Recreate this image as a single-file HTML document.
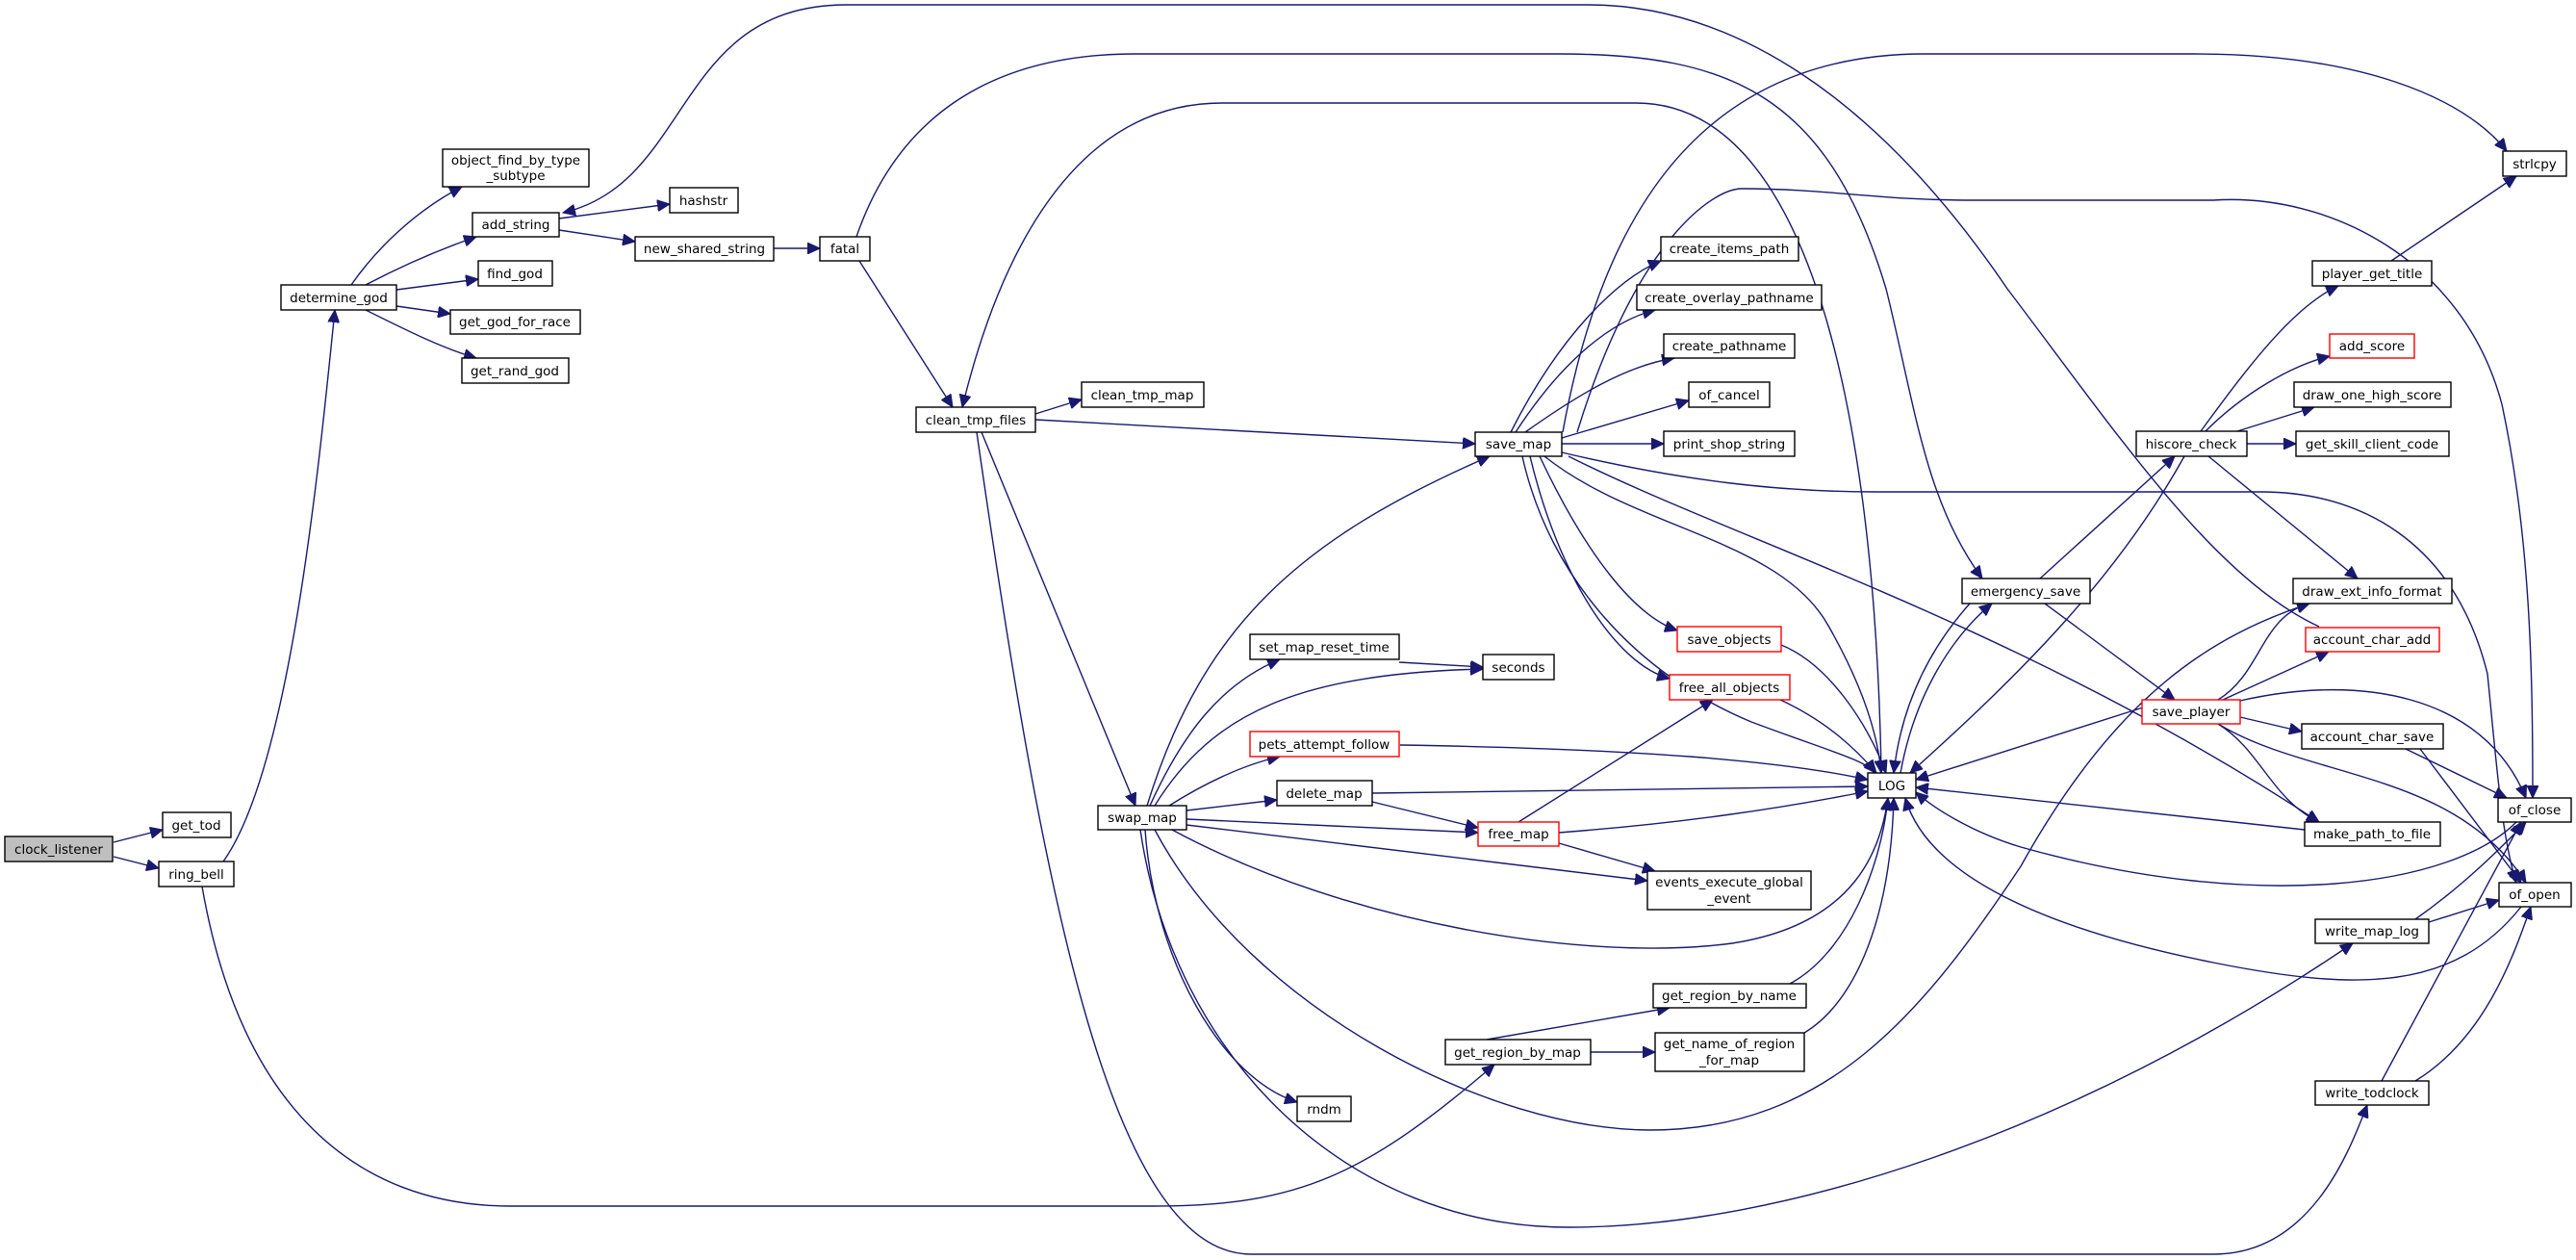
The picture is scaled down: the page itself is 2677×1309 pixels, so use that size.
<!DOCTYPE html>
<html><head><meta charset="utf-8"><style>
html,body{margin:0;padding:0;background:#fff;}
svg{display:block}
text{font-family:"DejaVu Sans","Liberation Sans",sans-serif;font-size:13.5px;text-anchor:middle;fill:#000}
.e{fill:none;stroke:#191970;stroke-width:1.4}
.n{fill:#fff;stroke:#000;stroke-width:1.4}
.r{fill:#fff;stroke:#ff0000;stroke-width:1.4}
</style></head><body>
<svg width="2677" height="1309" viewBox="0 0 2677 1309" xmlns="http://www.w3.org/2000/svg">
<defs>
<marker id="a" markerUnits="userSpaceOnUse" markerWidth="14" markerHeight="12" refX="13" refY="6" orient="auto">
<path d="M0,0 L13,6 L0,12 Z" fill="#191970" stroke="#191970"/>
</marker>
</defs>
<g marker-end="url(#a)">
<path class="e" d="M118,875 L169,862"/>
<path class="e" d="M118,890 L165,902"/>
<path class="e" d="M232,895 C300,800 330,500 348,322"/>
<path class="e" d="M210,921 C250,1150 370,1253 530,1253 L1200,1253 C1350,1253 1420,1220 1553,1106"/>
<path class="e" d="M365,296 C390,260 430,220 480,194"/>
<path class="e" d="M380,296 C420,275 460,258 495,246"/>
<path class="e" d="M412,301 L497,290"/>
<path class="e" d="M412,318 L468,326"/>
<path class="e" d="M380,322 C420,342 460,362 495,372"/>
<path class="e" d="M581,227 L696,212"/>
<path class="e" d="M581,239 L660,251"/>
<path class="e" d="M804,258 L852,258"/>
<path class="e" d="M890,246 C930,130 1020,56 1180,56 L1620,56 C1800,56 1900,100 1960,300 C1990,420 2000,520 2060,601"/>
<path class="e" d="M893,271 L990,423"/>
<path class="e" d="M1955,803 C1950,500 1900,107 1700,107 L1270,107 C1100,107 1030,300 1000,423"/>
<path class="e" d="M2410,651 C2300,600 2200,450 2086,300 C1950,100 1800,5 1650,5 L880,5 C700,5 720,190 585,221"/>
<path class="e" d="M1076,430 L1124,415"/>
<path class="e" d="M1076,436 L1533,461"/>
<path class="e" d="M1020,449 L1180,837"/>
<path class="e" d="M1015,449 C1080,900 1150,1303 1300,1303 L2300,1303 C2400,1303 2440,1200 2460,1148"/>
<path class="e" d="M1192,837 C1250,650 1350,560 1548,474"/>
<path class="e" d="M1195,837 C1230,760 1270,710 1330,685"/>
<path class="e" d="M1200,837 C1260,740 1350,700 1541,695"/>
<path class="e" d="M1454,688 L1541,693"/>
<path class="e" d="M1215,837 C1250,815 1290,795 1330,786"/>
<path class="e" d="M1233,842 L1327,831"/>
<path class="e" d="M1233,851 L1536,865"/>
<path class="e" d="M1233,857 L1712,915"/>
<path class="e" d="M1218,862 C1400,960 1650,1000 1800,980 C1930,960 1955,880 1962,829"/>
<path class="e" d="M1190,862 C1200,1000 1270,1120 1348,1145"/>
<path class="e" d="M1200,862 C1300,1050 1550,1174 1715,1174 C1900,1174 2000,1050 2100,900 C2200,720 2300,660 2400,627"/>
<path class="e" d="M1185,862 C1220,1100 1400,1275 1630,1275 C1850,1275 2150,1180 2445,980"/>
<path class="e" d="M1570,449 C1620,350 1680,290 1726,271"/>
<path class="e" d="M1575,449 C1620,380 1670,335 1720,322"/>
<path class="e" d="M1585,449 C1640,410 1690,380 1740,372"/>
<path class="e" d="M1623,455 L1755,416"/>
<path class="e" d="M1623,461 L1729,461"/>
<path class="e" d="M1624,449 C1660,250 1750,56 2000,56 L2280,56 C2450,56 2560,100 2605,157"/>
<path class="e" d="M1639,449 C1700,250 1780,196 1810,196 C1900,196 1950,208 2050,208 L2300,208 C2420,200 2560,270 2600,420 C2630,560 2632,700 2632,829"/>
<path class="e" d="M1623,470 C1750,500 1850,511 1950,511 L2350,511 C2450,511 2550,560 2585,700 C2595,800 2600,870 2615,917"/>
<path class="e" d="M1600,474 C1650,580 1700,640 1743,655"/>
<path class="e" d="M1590,474 C1620,600 1680,690 1735,705"/>
<path class="e" d="M1582,474 C1610,600 1700,700 1820,750 C1900,780 1940,790 1948,803"/>
<path class="e" d="M1605,474 C1700,550 1850,560 1900,650 C1940,720 1952,770 1955,803"/>
<path class="e" d="M1630,474 C1800,560 2100,650 2410,854"/>
<path class="e" d="M2120,601 L2260,474"/>
<path class="e" d="M2125,627 L2260,727"/>
<path class="e" d="M2287,448 C2330,390 2380,320 2430,297"/>
<path class="e" d="M2292,448 C2330,410 2380,380 2421,370"/>
<path class="e" d="M2325,448 L2405,423"/>
<path class="e" d="M2335,461 L2386,461"/>
<path class="e" d="M2295,474 L2450,601"/>
<path class="e" d="M2270,474 C2200,600 2100,700 1985,803"/>
<path class="e" d="M2485,271 L2615,183"/>
<path class="e" d="M2227,735 L1991,810"/>
<path class="e" d="M2305,727 C2350,700 2350,640 2400,627"/>
<path class="e" d="M2310,727 L2420,677"/>
<path class="e" d="M2328,745 L2392,760"/>
<path class="e" d="M2328,728 C2450,700 2580,720 2625,829"/>
<path class="e" d="M2305,752 C2350,780 2360,830 2410,854"/>
<path class="e" d="M2305,752 C2400,810 2550,800 2625,917"/>
<path class="e" d="M2500,778 L2605,829"/>
<path class="e" d="M2515,778 L2620,917"/>
<path class="e" d="M2395,862 L1991,818"/>
<path class="e" d="M2615,854 C2550,920 2350,950 2100,880 C2050,865 2010,840 1991,823"/>
<path class="e" d="M2620,942 C2550,1030 2450,1030 2300,1000 C2100,960 2000,900 1980,829"/>
<path class="e" d="M2510,955 C2560,920 2600,880 2625,854"/>
<path class="e" d="M2524,958 L2597,935"/>
<path class="e" d="M2475,1123 L2620,854"/>
<path class="e" d="M2510,1123 C2580,1080 2610,1000 2630,942"/>
<path class="e" d="M1578,854 L1780,727"/>
<path class="e" d="M1620,865 C1750,855 1850,840 1941,822"/>
<path class="e" d="M1620,876 L1720,905"/>
<path class="e" d="M1426,833 L1536,860"/>
<path class="e" d="M1426,824 L1941,817"/>
<path class="e" d="M1455,774 C1700,778 1850,790 1941,810"/>
<path class="e" d="M1851,670 C1900,690 1940,750 1960,803"/>
<path class="e" d="M1850,727 C1900,750 1930,780 1950,803"/>
<path class="e" d="M1545,1080 L1735,1047"/>
<path class="e" d="M1653,1093 L1720,1093"/>
<path class="e" d="M1860,1022 C1920,990 1955,900 1962,829"/>
<path class="e" d="M1875,1073 C1930,1040 1965,950 1968,829"/>
<path class="e" d="M1975,803 C1990,720 2030,660 2070,627"/>
<path class="e" d="M2047,627 C2000,680 1975,740 1968,803"/>
</g>
<rect class="n" x="5" y="869" width="112" height="26" style="fill:#bfbfbf"/><text x="61" y="887">clock_listener</text>
<rect class="n" x="169" y="844" width="71" height="26"/><text x="204" y="862">get_tod</text>
<rect class="n" x="165" y="895" width="78" height="26"/><text x="204" y="913">ring_bell</text>
<rect class="n" x="292" y="296" width="120" height="26"/><text x="352" y="314">determine_god</text>
<rect class="n" x="460" y="155" width="152" height="39"/><text x="536" y="171">object_find_by_type</text><text x="536" y="187">_subtype</text>
<rect class="n" x="491" y="221" width="90" height="25"/><text x="536" y="238">add_string</text>
<rect class="n" x="696" y="195" width="71" height="26"/><text x="731" y="213">hashstr</text>
<rect class="n" x="660" y="246" width="144" height="25"/><text x="732" y="263">new_shared_string</text>
<rect class="n" x="852" y="246" width="52" height="25"/><text x="878" y="263">fatal</text>
<rect class="n" x="497" y="271" width="77" height="26"/><text x="535" y="289">find_god</text>
<rect class="n" x="468" y="322" width="135" height="25"/><text x="535" y="339">get_god_for_race</text>
<rect class="n" x="480" y="372" width="111" height="26"/><text x="535" y="390">get_rand_god</text>
<rect class="n" x="952" y="423" width="124" height="26"/><text x="1014" y="441">clean_tmp_files</text>
<rect class="n" x="1124" y="397" width="127" height="26"/><text x="1187" y="415">clean_tmp_map</text>
<rect class="n" x="1533" y="449" width="90" height="25"/><text x="1578" y="466">save_map</text>
<rect class="n" x="1726" y="246" width="143" height="25"/><text x="1797" y="263">create_items_path</text>
<rect class="n" x="1701" y="296" width="192" height="26"/><text x="1797" y="314">create_overlay_pathname</text>
<rect class="n" x="1729" y="347" width="136" height="25"/><text x="1797" y="364">create_pathname</text>
<rect class="n" x="1755" y="397" width="84" height="26"/><text x="1797" y="415">of_cancel</text>
<rect class="n" x="1729" y="448" width="136" height="26"/><text x="1797" y="466">print_shop_string</text>
<rect class="r" x="1743" y="651" width="108" height="26"/><text x="1797" y="669">save_objects</text>
<rect class="r" x="1735" y="701" width="125" height="26"/><text x="1797" y="719">free_all_objects</text>
<rect class="n" x="1299" y="659" width="155" height="26"/><text x="1376" y="677">set_map_reset_time</text>
<rect class="n" x="1541" y="680" width="74" height="26"/><text x="1578" y="698">seconds</text>
<rect class="r" x="1299" y="760" width="155" height="26"/><text x="1376" y="778">pets_attempt_follow</text>
<rect class="n" x="1327" y="811" width="99" height="26"/><text x="1376" y="829">delete_map</text>
<rect class="n" x="1141" y="837" width="92" height="25"/><text x="1187" y="854">swap_map</text>
<rect class="r" x="1536" y="854" width="84" height="25"/><text x="1578" y="871">free_map</text>
<rect class="n" x="1712" y="905" width="170" height="40"/><text x="1797" y="921">events_execute_global</text><text x="1797" y="938">_event</text>
<rect class="n" x="1941" y="803" width="50" height="26"/><text x="1966" y="821">LOG</text>
<rect class="n" x="1718" y="1022" width="159" height="25"/><text x="1797" y="1039">get_region_by_name</text>
<rect class="n" x="1502" y="1080" width="151" height="26"/><text x="1577" y="1098">get_region_by_map</text>
<rect class="n" x="1720" y="1073" width="155" height="40"/><text x="1797" y="1089">get_name_of_region</text><text x="1797" y="1106">_for_map</text>
<rect class="n" x="1348" y="1139" width="56" height="26"/><text x="1376" y="1157">rndm</text>
<rect class="n" x="2601" y="157" width="66" height="26"/><text x="2634" y="175">strlcpy</text>
<rect class="n" x="2403" y="271" width="124" height="26"/><text x="2465" y="289">player_get_title</text>
<rect class="r" x="2421" y="347" width="88" height="25"/><text x="2465" y="364">add_score</text>
<rect class="n" x="2384" y="397" width="163" height="26"/><text x="2465" y="415">draw_one_high_score</text>
<rect class="n" x="2220" y="448" width="115" height="26"/><text x="2277" y="466">hiscore_check</text>
<rect class="n" x="2386" y="448" width="159" height="26"/><text x="2465" y="466">get_skill_client_code</text>
<rect class="n" x="2039" y="601" width="133" height="26"/><text x="2105" y="619">emergency_save</text>
<rect class="n" x="2383" y="601" width="165" height="26"/><text x="2465" y="619">draw_ext_info_format</text>
<rect class="r" x="2396" y="652" width="139" height="25"/><text x="2465" y="669">account_char_add</text>
<rect class="r" x="2226" y="727" width="102" height="25"/><text x="2277" y="744">save_player</text>
<rect class="n" x="2392" y="752" width="147" height="26"/><text x="2465" y="770">account_char_save</text>
<rect class="n" x="2596" y="829" width="76" height="25"/><text x="2634" y="846">of_close</text>
<rect class="n" x="2395" y="854" width="141" height="25"/><text x="2465" y="871">make_path_to_file</text>
<rect class="n" x="2597" y="917" width="75" height="25"/><text x="2634" y="934">of_open</text>
<rect class="n" x="2406" y="955" width="118" height="25"/><text x="2465" y="972">write_map_log</text>
<rect class="n" x="2406" y="1123" width="118" height="25"/><text x="2465" y="1140">write_todclock</text>
</svg>
</body></html>
